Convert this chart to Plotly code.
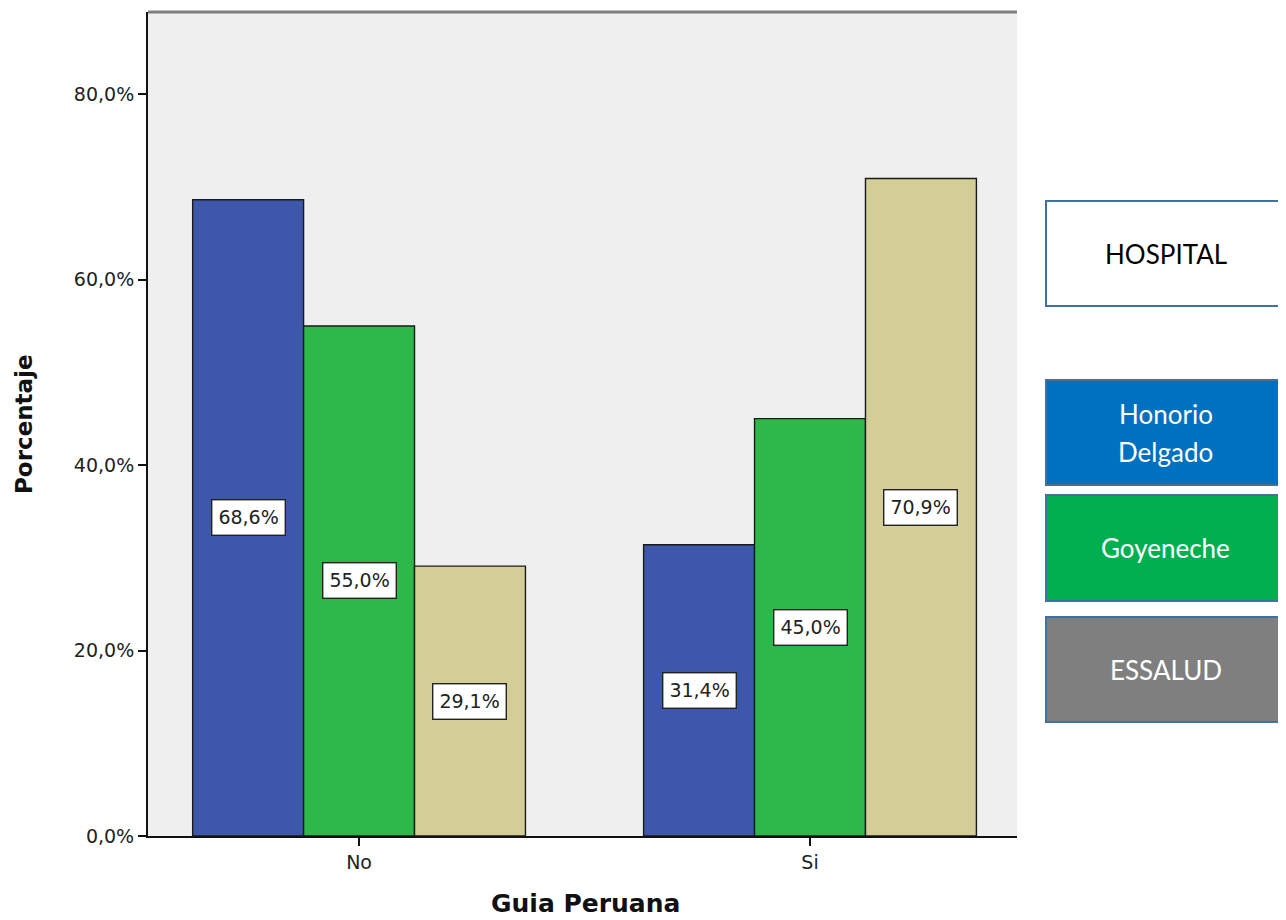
import plotly.graph_objects as go

categories = ["No", "Si"]
series_names = ["Honorio Delgado", "Goyeneche", "ESSALUD"]
honorio = [68.6, 31.4]
goyeneche = [55.0, 45.0]
essalud = [29.1, 70.9]
series_values = [honorio, goyeneche, essalud]
bar_colors = ["#3d58ab", "#2fb84a", "#d3ce98"]
y_ticks = [0, 20, 40, 60, 80]
y_tick_labels = ["0,0%", "20,0%", "40,0%", "60,0%", "80,0%"]
legend_title = "HOSPITAL"
legend_labels = [["Honorio", "Delgado"], ["Goyeneche"], ["ESSALUD"]]
legend_fill = ["#0070c0", "#00b050", "#7f7f7f"]

OFF = 8  # default page body margin
W, H = 1286 - OFF, 920 - OFF
L, R, T, B = 148 - OFF, 269, 12 - OFF, 84
PW, PH = W - L - R, H - T - B
BARGAP = 0.262

def px_x(px):
    return (px - OFF - L) / PW

def px_y(py):
    return (H + OFF - B - py) / PH

fig = go.Figure()
xs = list(range(len(categories)))
for name, vals, col in zip(series_names, series_values, bar_colors):
    fig.add_trace(go.Bar(
        x=xs, y=vals, name=name,
        marker=dict(color=col, line=dict(color="#1a1a1a", width=1.4)),
        hoverinfo="skip",
    ))

annotations = []
n = len(series_names)
bw = (1 - BARGAP) / n
for i, vals in enumerate(series_values):
    for j, v in enumerate(vals):
        annotations.append(dict(
            x=j + (i - (n - 1) / 2) * bw, y=v / 2, xref="x", yref="y",
            text=f"{v:.1f}%".replace(".", ","), showarrow=False,
            font=dict(family="DejaVu Sans", size=19, color="#222222"),
            bgcolor="white", bordercolor="#222222", borderwidth=1.4, borderpad=6,
        ))

annotations.append(dict(
    x=px_x(585), y=px_y(903), xref="paper", yref="paper", text="<b>Guia Peruana</b>",
    showarrow=False, font=dict(family="DejaVu Sans", size=25, color="#111111"),
    xanchor="center", yanchor="middle"))
annotations.append(dict(
    x=px_x(24), y=px_y(424), xref="paper", yref="paper", text="<b>Porcentaje</b>",
    showarrow=False, textangle=-90, font=dict(family="DejaVu Sans", size=23, color="#111111"),
    xanchor="center", yanchor="middle"))

shapes = [dict(type="line", xref="paper", yref="paper", x0=0, x1=1, y0=1, y1=1,
               line=dict(color="#808080", width=3))]

boxes = [(201, 306, "white", [legend_title], "#000000"),
         (380, 485, legend_fill[0], legend_labels[0], "#ffffff"),
         (495, 601, legend_fill[1], legend_labels[1], "#ffffff"),
         (617, 722, legend_fill[2], legend_labels[2], "#ffffff")]
LINE_GAP = 38
for y0, y1, fill, lines, tcol in boxes:
    shapes.append(dict(type="rect", xref="paper", yref="paper",
                       x0=px_x(1046), x1=px_x(1284), y0=px_y(y1), y1=px_y(y0),
                       fillcolor=fill, line=dict(color="#41719c", width=2)))
    mid = (y0 + y1) / 2
    for k, line in enumerate(lines):
        yc = mid + (k - (len(lines) - 1) / 2) * LINE_GAP
        annotations.append(dict(
            x=px_x(1165.5), y=px_y(yc), xref="paper", yref="paper",
            text=line, showarrow=False, xanchor="center", yanchor="middle",
            font=dict(family="Lato", size=26, color=tcol)))

fig.update_layout(
    width=W, height=H, margin=dict(l=L, r=R, t=T, b=B),
    paper_bgcolor="white", plot_bgcolor="#efefef",
    barmode="group", bargap=BARGAP, bargroupgap=0,
    showlegend=False,
    annotations=annotations, shapes=shapes,
    xaxis=dict(range=[-0.468, 1.459], tickvals=xs, ticktext=categories,
               showgrid=False, zeroline=False, showline=True, linecolor="#111111", linewidth=2,
               ticks="outside", ticklen=8, tickcolor="#111111", tickwidth=2,
               tickfont=dict(family="DejaVu Sans", size=19, color="#222222")),
    yaxis=dict(range=[0, 88.85], tickvals=y_ticks, ticktext=y_tick_labels,
               showgrid=False, zeroline=False, showline=True, linecolor="#111111", linewidth=2,
               ticks="outside", ticklen=8, tickcolor="#111111", tickwidth=2,
               tickfont=dict(family="DejaVu Sans", size=19, color="#222222")),
)

fig.write_html("out.html")
